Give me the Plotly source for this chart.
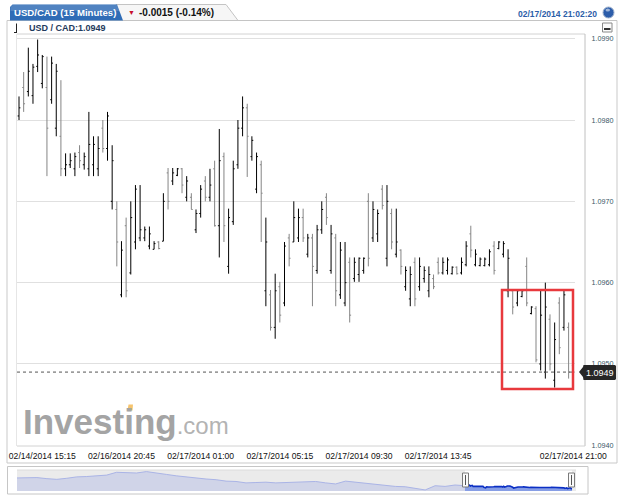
import plotly.graph_objects as go
import pandas as pd
import numpy as np

W, H = 625, 499
def X(px): return px / W
def Y(py): return 1 - py / H
def path(pts):
    return "M " + " L ".join(f"{X(a):.5f},{Y(b):.5f}" for a, b in pts) + " Z"

# ---------------- data ----------------
session1 = pd.date_range("2014-02-14 14:00", periods=12, freq="15min")
session2 = pd.date_range("2014-02-16 18:15", "2014-02-17 21:00", freq="15min")
bar_times = [t.strftime("%m/%d/%Y %H:%M") for t in list(session1) + list(session2)]

open_ = [1.09805,1.09840,1.09835,1.09830,1.09866,1.09845,1.09840,1.09825,1.09790,1.09780,
         1.09740,1.09745,1.09740,1.09760,1.09745,1.09740,1.09745,1.09740,1.09790,1.09765,
         1.09700,1.09690,1.09585,1.09670,1.09612,1.09650,1.09655,1.09655,1.09645,1.09641,
         1.09650,1.09651,1.09735,1.09725,1.09732,1.09740,1.09705,1.09705,1.09665,1.09685,
         1.09725,1.09705,1.09740,1.09670,1.09755,1.09620,1.09675,1.09745,1.09790,1.09815,
         1.09755,1.09715,1.09745,1.09590,1.09585,1.09545,1.09595,1.09575,1.09655,1.09650,
         1.09655,1.09680,1.09635,1.09655,1.09615,1.09665,1.09705,1.09615,1.09655,1.09585,
         1.09575,1.09625,1.09605,1.09610,1.09615,1.09700,1.09655,1.09660,1.09715,1.09630,
         1.09685,1.09635,1.09640,1.09595,1.09580,1.09625,1.09595,1.09605,1.09590,1.09605,
         1.09625,1.09612,1.09615,1.09611,1.09619,1.09612,1.09622,1.09660,1.09622,1.09621,
         1.09621,1.09622,1.09645,1.09642,1.09635,1.09590,1.09590,1.09575,1.09583,1.09620,
         1.09562,1.09568,1.09500,1.09490,1.09555,1.09480,1.09575,1.09545,1.09545,1.09498]
high = [1.09829,1.09859,1.09889,1.09869,1.09899,1.09880,1.09878,1.09878,1.09869,1.09849,
        1.09759,1.09759,1.09760,1.09769,1.09760,1.09810,1.09780,1.09780,1.09800,1.09810,
        1.09769,1.09700,1.09651,1.09680,1.09700,1.09720,1.09720,1.09669,1.09669,1.09651,
        1.09651,1.09710,1.09741,1.09741,1.09741,1.09741,1.09731,1.09710,1.09690,1.09720,
        1.09731,1.09740,1.09750,1.09789,1.09760,1.09691,1.09750,1.09800,1.09829,1.09820,
        1.09780,1.09760,1.09750,1.09680,1.09591,1.09611,1.09601,1.09650,1.09660,1.09700,
        1.09691,1.09691,1.09660,1.09660,1.09671,1.09700,1.09710,1.09671,1.09660,1.09650,
        1.09650,1.09631,1.09631,1.09631,1.09631,1.09710,1.09700,1.09690,1.09720,1.09720,
        1.09691,1.09691,1.09641,1.09620,1.09620,1.09631,1.09631,1.09620,1.09620,1.09610,
        1.09631,1.09631,1.09631,1.09620,1.09620,1.09631,1.09651,1.09670,1.09641,1.09631,
        1.09631,1.09641,1.09651,1.09651,1.09651,1.09641,1.09592,1.09592,1.09592,1.09631,
        1.09571,1.09571,1.09592,1.09600,1.09561,1.09551,1.09582,1.09592,1.09551,1.09502]
low = [1.09800,1.09810,1.09829,1.09820,1.09859,1.09839,1.09731,1.09820,1.09780,1.09731,
       1.09731,1.09741,1.09731,1.09741,1.09739,1.09731,1.09731,1.09731,1.09760,1.09750,
       1.09690,1.09620,1.09582,1.09582,1.09610,1.09641,1.09651,1.09651,1.09641,1.09641,
       1.09641,1.09651,1.09690,1.09720,1.09731,1.09710,1.09700,1.09690,1.09661,1.09680,
       1.09700,1.09700,1.09669,1.09631,1.09650,1.09611,1.09671,1.09740,1.09780,1.09730,
       1.09750,1.09710,1.09650,1.09571,1.09541,1.09531,1.09551,1.09571,1.09620,1.09650,
       1.09650,1.09650,1.09631,1.09571,1.09611,1.09660,1.09671,1.09611,1.09571,1.09580,
       1.09571,1.09551,1.09601,1.09601,1.09611,1.09620,1.09650,1.09650,1.09690,1.09620,
       1.09641,1.09631,1.09610,1.09590,1.09571,1.09571,1.09590,1.09600,1.09582,1.09592,
       1.09610,1.09610,1.09610,1.09610,1.09610,1.09610,1.09620,1.09631,1.09620,1.09620,
       1.09620,1.09620,1.09610,1.09641,1.09631,1.09582,1.09561,1.09571,1.09582,1.09571,
       1.09561,1.09502,1.09492,1.09482,1.09492,1.09471,1.09512,1.09541,1.09482,1.09490]
close = [1.09815,1.09820,1.09860,1.09865,1.09880,1.09878,1.09790,1.09870,1.09860,1.09740,
         1.09745,1.09750,1.09755,1.09750,1.09755,1.09770,1.09770,1.09765,1.09765,1.09805,
         1.09750,1.09650,1.09640,1.09590,1.09680,1.09715,1.09665,1.09665,1.09660,1.09648,
         1.09642,1.09700,1.09700,1.09735,1.09740,1.09720,1.09725,1.09690,1.09685,1.09715,
         1.09705,1.09720,1.09670,1.09750,1.09670,1.09680,1.09740,1.09790,1.09815,1.09780,
         1.09775,1.09755,1.09710,1.09650,1.09545,1.09590,1.09560,1.09645,1.09630,1.09680,
         1.09680,1.09655,1.09655,1.09620,1.09665,1.09690,1.09680,1.09660,1.09590,1.09640,
         1.09600,1.09560,1.09625,1.09630,1.09630,1.09630,1.09690,1.09685,1.09695,1.09700,
         1.09650,1.09650,1.09620,1.09615,1.09610,1.09580,1.09620,1.09615,1.09610,1.09595,
         1.09612,1.09625,1.09628,1.09619,1.09611,1.09625,1.09645,1.09640,1.09635,1.09629,
         1.09629,1.09638,1.09615,1.09650,1.09648,1.09630,1.09570,1.09590,1.09590,1.09575,
         1.09570,1.09505,1.09560,1.09570,1.09500,1.09530,1.09520,1.09585,1.09490,1.09490]

tick_labels = ["02/14/2014 15:15", "02/16/2014 20:45", "02/17/2014 01:00", "02/17/2014 05:15",
               "02/17/2014 09:30", "02/17/2014 13:45", "02/17/2014 21:00"]
price_ticks = [1.0940, 1.0950, 1.0960, 1.0970, 1.0980, 1.0990]
last_price = 1.0949

# navigator: longer history before the visible window
nav_history = [1.1070,1.1074,1.1074,1.1062,1.1054,1.1066,1.1082,1.1086,1.1094,1.1102,
               1.1134,1.1126,1.1126,1.1142,1.1130,1.1110,1.1094,1.1082,1.1062,1.1058,
               1.1050,1.1034,1.1030,1.1014,1.1018,1.1022,1.1014,1.1018,1.1022,1.1026,
               1.1030,1.1014,1.1002,1.1034,1.1022,1.1002,1.0990,1.0982,1.0974,1.0970,
               1.0950,1.0934,1.0982,1.0974,1.0990,1.0982]
hist_x = np.linspace(-498, 0, len(nav_history))

fig = go.Figure()
fig.add_trace(go.Ohlc(
    x=bar_times, open=open_, high=high, low=low, close=close,
    increasing=dict(line=dict(color="#000000", width=1)),
    decreasing=dict(line=dict(color="#858585", width=1)),
    tickwidth=0.3, xaxis="x", yaxis="y", hoverinfo="skip"))

fig.add_trace(go.Scatter(x=hist_x, y=nav_history, mode="lines", fill="tozeroy",
                         line=dict(color="#aab4e6", width=1), fillcolor="rgba(175,185,228,0.45)",
                         xaxis="x2", yaxis="y2", hoverinfo="skip"))
fig.add_trace(go.Scatter(x=list(range(len(close))), y=close, mode="lines", fill="tozeroy",
                         line=dict(color="#0b2fc4", width=1.6), fillcolor="rgba(95,125,220,0.75)",
                         xaxis="x2", yaxis="y2", hoverinfo="skip"))

shapes = []
# outer frame
shapes.append(dict(type="rect", xref="paper", yref="paper", x0=X(7), x1=X(617), y0=Y(463), y1=Y(20.5),
                   line=dict(color="#c9c9c9", width=1), fillcolor="rgba(0,0,0,0)", layer="below"))
# chart frame lines
shapes.append(dict(type="line", xref="paper", yref="paper", x0=X(17), x1=X(585), y0=Y(34), y1=Y(34),
                   line=dict(color="#d2d2d2", width=1)))
shapes.append(dict(type="line", xref="paper", yref="paper", x0=X(585), x1=X(585), y0=Y(34), y1=Y(446),
                   line=dict(color="#c0c0c0", width=1)))
shapes.append(dict(type="line", xref="paper", yref="paper", x0=X(17), x1=X(585), y0=Y(446), y1=Y(446),
                   line=dict(color="#d2d2d2", width=1)))
shapes.append(dict(type="line", xref="paper", yref="paper", x0=X(16.5), x1=X(16.5), y0=Y(34), y1=Y(446),
                   line=dict(color="#e6e6e6", width=1)))
# header tabs
shapes.append(dict(type="path", xref="paper", yref="paper",
                   path=path([(116, 4.5), (226, 4.5), (238, 20.5), (120, 20.5)]),
                   fillcolor="#f6f6f6", line=dict(color="#c4c4c4", width=1)))
shapes.append(dict(type="line", xref="paper", yref="paper", x0=X(238), x1=X(617), y0=Y(20.5), y1=Y(20.5),
                   line=dict(color="#c4c4c4", width=1)))
shapes.append(dict(type="path", xref="paper", yref="paper",
                   path=path([(10, 20.5), (10, 7), (12.5, 4.5), (117, 4.5), (123, 20.5)]),
                   fillcolor="#2f6cb6", line=dict(width=0)))
shapes.append(dict(type="path", xref="paper", yref="paper",
                   path=path([(10.5, 11), (10.5, 7), (12.5, 5), (117, 5), (119.3, 11)]),
                   fillcolor="rgba(255,255,255,0.16)", line=dict(width=0)))
# clock ball
shapes.append(dict(type="circle", xref="paper", yref="paper", x0=X(603), x1=X(614), y0=Y(18), y1=Y(7),
                   fillcolor="#2c5daa", line=dict(color="#9fb2cc", width=1)))
shapes.append(dict(type="circle", xref="paper", yref="paper", x0=X(605.5), x1=X(610), y0=Y(11.5), y1=Y(8.5),
                   fillcolor="rgba(255,255,255,0.55)", line=dict(width=0)))
# minimize icon
shapes.append(dict(type="rect", xref="paper", yref="paper", x0=X(602.5), x1=X(612), y0=Y(32), y1=Y(23),
                   fillcolor="#fbfbfb", line=dict(color="#8a8a8a", width=1)))
shapes.append(dict(type="rect", xref="paper", yref="paper", x0=X(604), x1=X(610.5), y0=Y(30), y1=Y(28),
                   fillcolor="#333333", line=dict(width=0)))
# small OHLC glyph
shapes.append(dict(type="line", xref="paper", yref="paper", x0=X(16.5), x1=X(16.5), y0=Y(33), y1=Y(23.5),
                   line=dict(color="#222", width=1)))
shapes.append(dict(type="line", xref="paper", yref="paper", x0=X(14), x1=X(16.5), y0=Y(32.5), y1=Y(32.5),
                   line=dict(color="#222", width=1)))
# last price dotted line
shapes.append(dict(type="line", xref="paper", yref="y", x0=X(17), x1=X(575), y0=last_price, y1=last_price,
                   line=dict(color="#555555", width=1, dash="dot")))
# last price tag
shapes.append(dict(type="path", xref="paper", yref="paper",
                   path=path([(579, 372), (583, 367), (583.5, 365), (615, 365), (616, 366), (616, 379),
                              (615, 380), (583.5, 380), (583, 377)]),
                   fillcolor="#262626", line=dict(width=0)))
# red highlight box
shapes.append(dict(type="rect", xref="paper", yref="paper", x0=X(502), x1=X(573), y0=Y(389), y1=Y(290),
                   line=dict(color="#e8393d", width=2.5), fillcolor="rgba(0,0,0,0)"))
# navigator
shapes.append(dict(type="rect", xref="paper", yref="paper", x0=X(7.5), x1=X(588), y0=Y(494), y1=Y(466.5),
                   line=dict(color="#c6c6c6", width=1), fillcolor="#ffffff", layer="below"))
shapes.append(dict(type="rect", xref="paper", yref="paper", x0=X(17), x1=X(465), y0=Y(491), y1=Y(470),
                   line=dict(width=0), fillcolor="#ebebeb", layer="below"))
shapes.append(dict(type="rect", xref="paper", yref="paper", x0=X(572), x1=X(576), y0=Y(491), y1=Y(470),
                   line=dict(width=0), fillcolor="#ebebeb", layer="below"))
shapes.append(dict(type="line", xref="paper", yref="paper", x0=X(17), x1=X(576), y0=Y(470), y1=Y(470),
                   line=dict(color="#dcdcdc", width=1), layer="below"))
for hx in (465.5, 571.5):
    shapes.append(dict(type="rect", xref="paper", yref="paper", x0=X(hx - 3), x1=X(hx + 3), y0=Y(487), y1=Y(473),
                       line=dict(color="#7a7a7a", width=1), fillcolor="#fafafa"))
    shapes.append(dict(type="line", xref="paper", yref="paper", x0=X(hx), x1=X(hx), y0=Y(485), y1=Y(475),
                       line=dict(color="#555555", width=1)))

ann = []
def text(x, y, s, size, color, xanchor="left", bold=False, family="Liberation Sans"):
    ann.append(dict(xref="paper", yref="paper", x=X(x), y=Y(y), xanchor=xanchor, yanchor="middle",
                    text=f"<b>{s}</b>" if bold else s, showarrow=False,
                    font=dict(size=size, color=color, family=family)))

text(12, 12.8, "USD/CAD (15 Minutes)", 9.6, "#ffffff", bold=True)
text(131.5, 12.5, "▼", 7, "#c8102e", xanchor="center")
text(137, 12.8, "-0.0015 (-0.14%)", 10, "#111111", bold=True)
text(599, 14, "02/17/2014 21:02:20", 8.5, "#2c5ea8", xanchor="right", bold=True)
text(27, 27.5, "USD / CAD:1.0949", 9, "#1f3a5c", bold=True)
text(599.5, 372.5, f"{last_price:.4f}", 9, "#ffffff", xanchor="center")
ann.append(dict(xref="paper", yref="paper", x=X(21), y=Y(421), xanchor="left", yanchor="middle",
                text="<b>Investing</b><span style='font-size:24px;color:#b3b3b3'>.com</span>",
                showarrow=False, font=dict(size=35, color="#a4a4a4", family="Liberation Sans")))

# orange accent on the watermark's "i"
shapes.append(dict(type="path", xref="paper", yref="paper",
                   path=path([(127.5, 410.5), (128.5, 404.5), (133, 404.5), (132.5, 410.5)]),
                   fillcolor="#f6c46e", line=dict(width=0)))

fig.update_layout(
    width=W, height=H, margin=dict(l=0, r=0, t=0, b=0, autoexpand=False),
    paper_bgcolor="#ffffff", plot_bgcolor="rgba(0,0,0,0)", showlegend=False,
    xaxis=dict(domain=[X(17), X(575)], anchor="y", type="category", range=[-0.43, 119.37],
               rangeslider=dict(visible=False), tickmode="array", tickvals=tick_labels, ticktext=tick_labels,
               tickfont=dict(size=8.6, color="#111111", family="Liberation Sans"),
               ticks="outside", ticklen=2, tickcolor="rgba(0,0,0,0)", automargin=False,
               showgrid=False, zeroline=False, showline=False, fixedrange=True),
    yaxis=dict(domain=[Y(446), Y(34)], anchor="x", range=[1.093991, 1.099058], side="right",
               tickmode="array", tickvals=price_ticks, tickformat=".4f", automargin=False,
               tickfont=dict(size=7.2, color="#3b5566", family="Liberation Sans"),
               ticks="outside", ticklen=14, tickcolor="rgba(0,0,0,0)",
               gridcolor="#e0e0e0", gridwidth=1, zeroline=False, showline=False, fixedrange=True),
    xaxis2=dict(domain=[X(17), X(576)], anchor="y2", range=[-498, 123.4], visible=False),
    yaxis2=dict(domain=[Y(491), Y(470)], anchor="x2", range=[1.0922, 1.1160], visible=False),
    shapes=shapes, annotations=ann,
)

fig.write_html("out.html")
